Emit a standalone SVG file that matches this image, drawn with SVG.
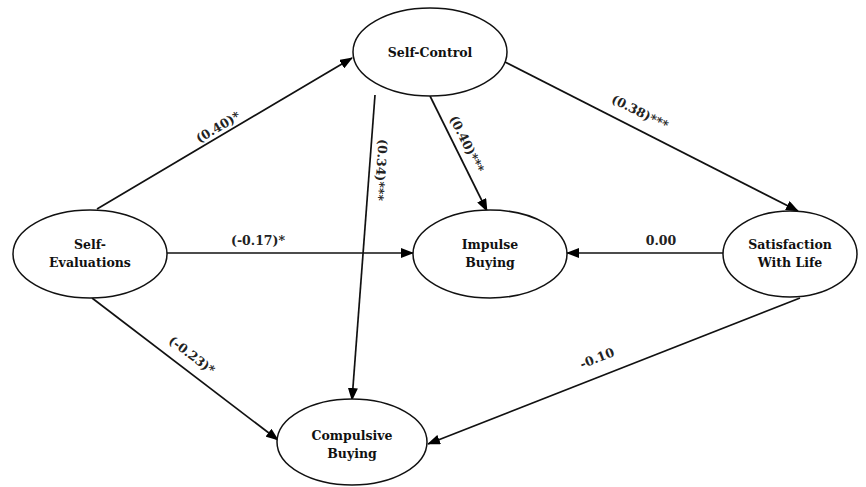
<svg xmlns="http://www.w3.org/2000/svg" width="866" height="487" viewBox="0 0 866 487">
  <defs>
    <marker id="arrow" markerUnits="userSpaceOnUse" markerWidth="13" markerHeight="10" refX="12" refY="5" orient="auto">
      <path d="M0,0 L13,5 L0,10 Z" fill="#000"/>
    </marker>
    <style>
      .node ellipse { fill: #fff; stroke: #111; stroke-width: 1.5; }
      .node text { font-family: "DejaVu Serif", "Liberation Serif", serif; font-weight: bold; font-size: 12.5px; fill: #111; text-anchor: middle; }
      .edges path { fill: none; stroke: #111; stroke-width: 1.7; marker-end: url(#arrow); }
      .edges text { font-family: "DejaVu Serif", "Liberation Serif", serif; font-weight: bold; font-size: 12.5px; fill: #222; text-anchor: middle; dominant-baseline: central; }
    </style>
  </defs>
  <rect width="866" height="487" fill="#fff"/>

  <g class="edges" id="connectors">
    <!-- Self-Evaluations -> Self-Control -->
    <path d="M97,209 L352,58"/>
    <text transform="translate(218,127) rotate(-30.6)">(0.40)*</text>
    <!-- Self-Evaluations -> Impulse Buying -->
    <path d="M167,253 L413,253"/>
    <text x="258" y="240">(-0.17)*</text>
    <!-- Self-Evaluations -> Compulsive Buying -->
    <path d="M92,298 L278,440"/>
    <text transform="translate(192,355) rotate(37.5)">(-0.23)*</text>
    <!-- Self-Control -> Compulsive Buying -->
    <path d="M375,95 L352,400"/>
    <text transform="translate(381,170) rotate(94)">(0.34)***</text>
    <!-- Self-Control -> Impulse Buying -->
    <path d="M430,96 L487,211"/>
    <text transform="translate(467,144) rotate(63.6)">(0.40)***</text>
    <!-- Self-Control -> Satisfaction With Life -->
    <path d="M505,62 L798,211"/>
    <text transform="translate(640,112) rotate(27)">(0.38)***</text>
    <!-- Satisfaction With Life -> Impulse Buying -->
    <path d="M723,253 L567,253"/>
    <text x="661" y="240">0.00</text>
    <!-- Satisfaction With Life -> Compulsive Buying -->
    <path d="M800,298 L428,444"/>
    <text transform="translate(597,358) rotate(-21.4)">-0.10</text>
  </g>

  <g class="node" id="self-control">
    <ellipse cx="430" cy="52" rx="77" ry="44"/>
    <text x="430" y="57">Self-Control</text>
  </g>
  <g class="node" id="self-evaluations">
    <ellipse cx="90" cy="254" rx="77" ry="44"/>
    <text x="90" y="249">Self-</text>
    <text x="90" y="267">Evaluations</text>
  </g>
  <g class="node" id="impulse-buying">
    <ellipse cx="490" cy="254" rx="77" ry="44"/>
    <text x="490" y="249">Impulse</text>
    <text x="490" y="267">Buying</text>
  </g>
  <g class="node" id="satisfaction-with-life">
    <ellipse cx="790" cy="254" rx="67" ry="43"/>
    <text x="790" y="249">Satisfaction</text>
    <text x="790" y="267">With Life</text>
  </g>
  <g class="node" id="compulsive-buying">
    <ellipse cx="352" cy="442" rx="75" ry="43"/>
    <text x="352" y="440">Compulsive</text>
    <text x="352" y="458">Buying</text>
  </g>
</svg>
